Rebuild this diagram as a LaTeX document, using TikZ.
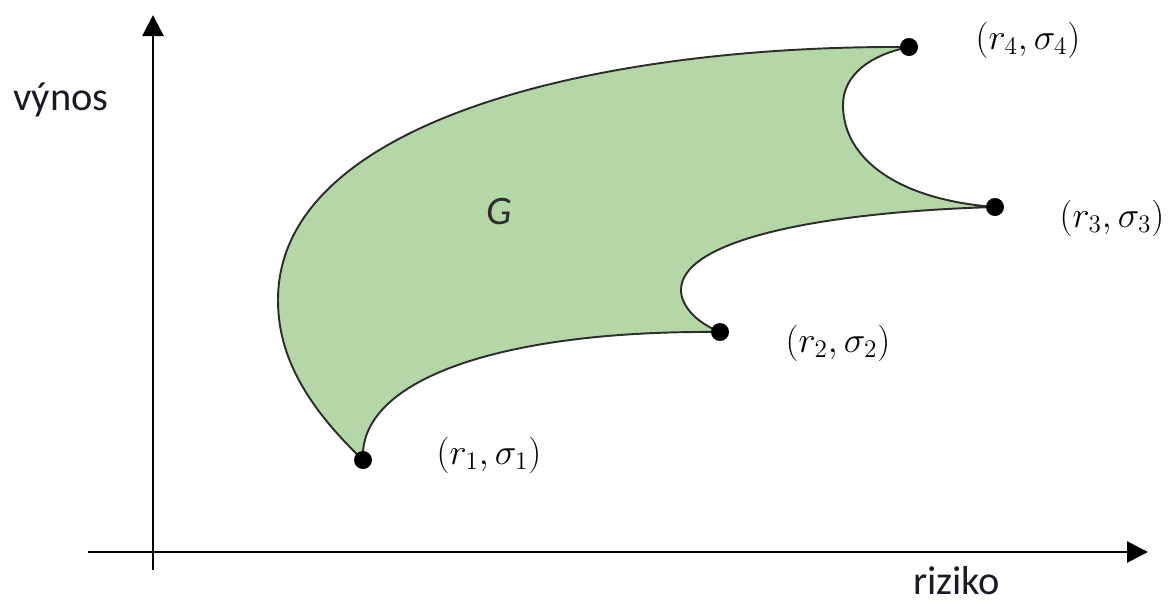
\documentclass[tikz,border=0pt]{standalone}
\usepackage{fontspec}
\setmainfont{Carlito}
\usetikzlibrary{arrows.meta}
\definecolor{regiongreen}{RGB}{181,215,168}
\definecolor{edgegray}{RGB}{45,45,45}
\definecolor{labelink}{RGB}{25,25,40}
\begin{document}
\begin{tikzpicture}[x=0.02cm,y=-0.02cm,
  axis/.style={line width=1.6pt,-{Triangle[length=0.42cm,width=0.42cm]}},
  border/.style={draw=edgegray,line width=1.1pt,fill=regiongreen},
  dot/.style={circle,fill=black,inner sep=0pt,minimum size=0.36cm},
  axlabel/.style={font=\fontsize{23}{27}\selectfont,text=labelink,inner sep=0pt},
  ptlabel/.style={font=\fontsize{21}{25}\selectfont,inner sep=0pt}]
\useasboundingbox (0,0) rectangle (1171,603);
% axes
\coordinate (xs) at (88,552);
\coordinate (xe) at (1148,552);
\coordinate (ys) at (153,570);
\coordinate (ye) at (153,15);
\draw[axis] (xs) -- (xe);
\draw[axis] (ys) -- (ye);
\node[axlabel,anchor=base west] (vy) at (13,110) {výnos};
\node[axlabel,anchor=base west] (rz) at (913,594) {riziko};
% points
\coordinate (p1) at (363,460);
\coordinate (p2) at (720,332);
\coordinate (p3) at (995,207);
\coordinate (p4) at (909,47);
% region
\path[border] (p1) .. controls (300,400) and (278,350) .. (278,300)
  .. controls (278,120) and (600,45) .. (p4)
  .. controls (870,55) and (843,75) .. (843,105)
  .. controls (843,160) and (900,200) .. (p3)
  .. controls (820,212) and (681,240) .. (681,290)
  .. controls (681,305) and (695,322) .. (p2)
  .. controls (500,330) and (358,380) .. (p1) -- cycle;
\node[dot] (d1) at (p1) {};
\node[dot] (d2) at (p2) {};
\node[dot] (d3) at (p3) {};
\node[dot] (d4) at (p4) {};
\node[ptlabel] (l1) at (489,455) {$(r_1,\sigma_1)$};
\node[ptlabel] (l2) at (838,343) {$(r_2,\sigma_2)$};
\node[ptlabel] (l3) at (1112,218) {$(r_3,\sigma_3)$};
\node[ptlabel] (l4) at (1028,40) {$(r_4,\sigma_4)$};
\node[axlabel,font=\fontsize{23}{27}\selectfont\itshape,text=edgegray] (g) at (499,212) {G};
\end{tikzpicture}
\end{document}
